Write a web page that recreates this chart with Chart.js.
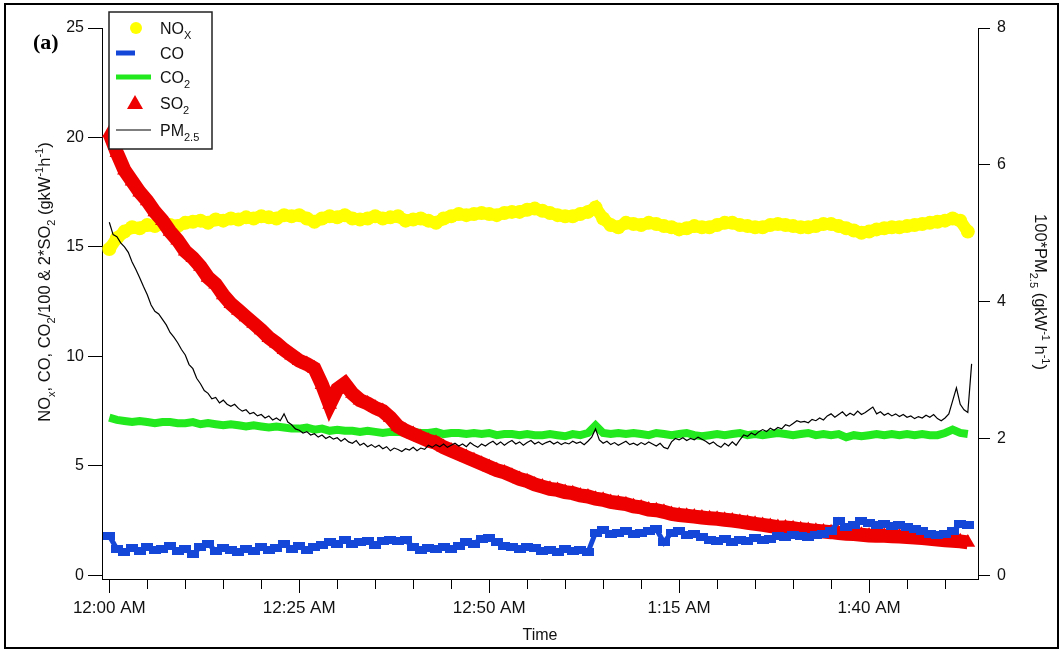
<!DOCTYPE html>
<html>
<head>
<meta charset="utf-8">
<title>Emission factors over time</title>
<script src="https://cdn.jsdelivr.net/npm/chart.js@4.4.1/dist/chart.umd.min.js"></script>
<style>
  html, body { margin: 0; padding: 0; background: #ffffff; }
  #wrap { width: 1061px; height: 650px; }
</style>
</head>
<body>
<div id="wrap"><canvas id="c" width="1061" height="650"></canvas></div>
<script>
// ---- time axis (minutes after 12:00 AM) ----
const timeTickMinutes = [0, 25, 50, 75, 100];
const timeTickLabels = ['12:00 AM', '12:25 AM', '12:50 AM', '1:15 AM', '1:40 AM'];
const minorTickMinutes = [5, 10, 15, 20, 30, 35, 40, 45, 55, 60, 65, 70, 80, 85, 90, 95, 105, 110];
const leftTickValues = [0, 5, 10, 15, 20, 25];
const rightTickValues = [0, 2, 4, 6, 8];

// gas series, one sample per minute
const sampleStepMin = 1;
const noxValues = [
  14.9, 15.4, 15.7, 15.9, 15.85, 16.0, 15.95, 16.05, 16.0, 15.95,
  16.1, 16.15, 16.2, 16.1, 16.25, 16.2, 16.3, 16.25, 16.35, 16.3,
  16.4, 16.35, 16.3, 16.45, 16.4, 16.45, 16.3, 16.15, 16.3, 16.4,
  16.35, 16.45, 16.3, 16.25, 16.3, 16.4, 16.3, 16.35, 16.4, 16.2,
  16.25, 16.3, 16.2, 16.1, 16.3, 16.4, 16.5, 16.45, 16.5, 16.55,
  16.5, 16.45, 16.55, 16.6, 16.6, 16.7, 16.75, 16.65, 16.55, 16.45,
  16.4, 16.4, 16.5, 16.6, 16.8, 16.3, 16.0, 15.9, 16.1, 16.05,
  16.0, 16.1, 16.05, 15.95, 15.9, 15.8, 15.85, 15.95, 15.9, 15.9,
  16.0, 16.1, 16.1, 16.0, 15.95, 15.9, 15.9, 16.0, 16.05, 16.0,
  15.95, 15.9, 15.9, 15.95, 16.05, 16.05, 15.95, 15.85, 15.75, 15.65,
  15.7, 15.8, 15.85, 15.9, 15.9, 15.95, 16.0, 16.05, 16.1, 16.15,
  16.2, 16.3, 16.2, 15.7
];
const coValues = [
  1.8, 1.2, 1.05, 1.25, 1.1, 1.3, 1.15, 1.2, 1.35, 1.1,
  1.2, 0.95, 1.3, 1.45, 1.1, 1.25, 1.15, 1.05, 1.2, 1.1,
  1.3, 1.15, 1.25, 1.45, 1.2, 1.35, 1.15, 1.3, 1.4, 1.5,
  1.45, 1.6, 1.45, 1.5, 1.55, 1.4, 1.55, 1.6, 1.55, 1.6,
  1.3, 1.15, 1.25, 1.2, 1.3, 1.2, 1.35, 1.5, 1.45, 1.65,
  1.7, 1.5, 1.35, 1.3, 1.2, 1.3, 1.25, 1.1, 1.15, 1.05,
  1.2, 1.1, 1.15, 1.05, 1.95, 2.05, 1.9, 1.95, 2.0, 1.9,
  1.95, 2.0, 2.1, 1.5, 1.95, 2.0, 1.85, 1.9, 1.75, 1.6,
  1.55, 1.65, 1.5, 1.6, 1.55, 1.7, 1.6, 1.65, 1.8, 1.75,
  1.85, 1.8, 1.75, 1.85, 1.9, 2.0, 2.5, 2.2, 2.3, 2.5,
  2.4, 2.3, 2.35, 2.25, 2.3, 2.2, 2.1, 2.0, 1.9, 1.85,
  1.9, 2.0, 2.35, 2.3
];
const co2Values = [
  7.2, 7.1, 7.05, 7.0, 7.05, 7.0, 6.95, 7.0, 7.0, 6.95,
  6.95, 7.0, 6.9, 6.95, 6.9, 6.85, 6.9, 6.85, 6.8, 6.85,
  6.8, 6.75, 6.8, 6.75, 6.7, 6.7, 6.75, 6.65, 6.7, 6.6,
  6.65, 6.6, 6.6, 6.55, 6.6, 6.55, 6.5, 6.55, 6.55, 6.5,
  6.55, 6.5, 6.5, 6.55, 6.45, 6.5, 6.5, 6.45, 6.5, 6.45,
  6.5, 6.4, 6.45, 6.45, 6.4, 6.45, 6.4, 6.4, 6.45, 6.4,
  6.35, 6.45, 6.4, 6.5, 6.85, 6.5, 6.45, 6.5, 6.45, 6.5,
  6.45, 6.4, 6.5, 6.45, 6.4, 6.45, 6.5, 6.4, 6.35, 6.4,
  6.45, 6.4, 6.45, 6.5, 6.4, 6.45, 6.4, 6.45, 6.5, 6.45,
  6.4, 6.45, 6.5, 6.4, 6.45, 6.4, 6.45, 6.3, 6.4, 6.35,
  6.4, 6.45, 6.4, 6.45, 6.4, 6.45, 6.4, 6.45, 6.4, 6.4,
  6.5, 6.65, 6.5, 6.45
];
const so2Values = [
  20.2, 19.3, 18.5, 18.0, 17.5, 17.1, 16.6, 16.2, 15.7, 15.3,
  14.8, 14.5, 14.1, 13.6, 13.3, 12.8, 12.4, 12.1, 11.8, 11.5,
  11.2, 10.85, 10.6, 10.3, 10.05, 9.8, 9.65, 9.45, 8.7, 7.8,
  8.5, 8.75, 8.3, 8.0, 7.85, 7.65, 7.5, 7.2, 6.8, 6.6,
  6.45, 6.3, 6.15, 6.05, 5.85, 5.7, 5.55, 5.4, 5.25, 5.1,
  4.95, 4.8, 4.7, 4.55, 4.4, 4.3, 4.15, 4.05, 3.95, 3.9,
  3.8, 3.75, 3.65, 3.6, 3.5, 3.45, 3.35, 3.3, 3.25, 3.15,
  3.1, 3.0, 2.97, 2.9, 2.8, 2.75, 2.72, 2.68, 2.64, 2.6,
  2.58, 2.54, 2.5, 2.45, 2.4, 2.35, 2.3, 2.25, 2.2, 2.18,
  2.15, 2.1, 2.07, 2.03, 2.0, 1.97, 1.93, 1.9, 1.88, 1.85,
  1.82, 1.8, 1.8, 1.78, 1.77, 1.75, 1.73, 1.7, 1.67, 1.63,
  1.6, 1.58, 1.55, 1.5
];

// 100*PM2.5, one sample per half minute (right axis)
const pmStepMin = 0.5;
const pmValues = [
  5.16, 4.98, 4.95, 4.86, 4.80, 4.72, 4.58, 4.47, 4.35, 4.22,
  4.10, 3.95, 3.86, 3.82, 3.74, 3.66, 3.55, 3.48, 3.40, 3.30,
  3.22, 3.08, 3.02, 2.88, 2.80, 2.70, 2.66, 2.58, 2.60, 2.52,
  2.56, 2.50, 2.47, 2.50, 2.44, 2.40, 2.42, 2.36, 2.38, 2.33,
  2.35, 2.30, 2.33, 2.27, 2.30, 2.26, 2.36, 2.24, 2.20, 2.14,
  2.12, 2.08, 2.10, 2.05, 2.07, 2.02, 2.05, 2.00, 2.03, 1.99,
  2.01, 1.96, 2.00, 1.95, 1.93, 1.97, 1.90, 1.93, 1.88, 1.91,
  1.87, 1.90, 1.85, 1.88, 1.82, 1.86, 1.84, 1.81, 1.85, 1.83,
  1.87, 1.82, 1.86, 1.84, 1.90, 1.87, 1.91, 1.88, 1.92, 1.87,
  1.90, 1.93, 1.89, 1.92, 1.88, 1.94, 1.90, 1.87, 1.92, 1.89,
  1.93, 1.96, 1.91, 1.95, 1.90, 1.94, 1.97, 1.92, 1.95, 1.90,
  1.94, 1.97, 1.92, 1.95, 1.91, 1.94, 1.96, 1.92, 1.95, 1.91,
  1.94, 1.92, 1.96, 1.93, 1.95, 1.91, 1.96, 2.02, 2.14, 1.98,
  1.93, 1.96, 1.91, 1.94, 1.90, 1.93, 1.96, 1.91, 1.93, 1.90,
  1.94, 1.91, 1.95, 1.92, 1.89, 1.93, 1.87, 1.85, 1.95, 2.00,
  1.98, 2.01, 1.97, 2.00, 1.98, 2.02, 1.99, 1.96, 1.92, 1.95,
  1.90, 1.87, 1.93, 1.89, 1.95, 1.90, 1.98, 2.05, 2.03, 2.08,
  2.05, 2.10, 2.13, 2.10, 2.15, 2.12, 2.16, 2.14, 2.20, 2.18,
  2.22, 2.26, 2.24, 2.25, 2.23, 2.28, 2.26, 2.30, 2.27, 2.33,
  2.36, 2.31, 2.35, 2.39, 2.33, 2.37, 2.34, 2.40, 2.35, 2.38,
  2.42, 2.46, 2.36, 2.39, 2.34, 2.37, 2.33, 2.36, 2.32, 2.35,
  2.31, 2.33, 2.29, 2.32, 2.30, 2.34, 2.31, 2.35, 2.29, 2.26,
  2.30, 2.36, 2.55, 2.74, 2.50, 2.42, 2.38, 3.09
];

// ---- colours ----
const noxColor = '#ffff00';
const coColor = '#1446d8';
const co2Color = '#22e81e';
const so2Color = '#ee0000';
const pmColor = '#000000';
const textColor = '#111111';
const sansFamily = "'Liberation Sans', Arial, sans-serif";

const toPoints = (values, step) => values.map((v, i) => ({ x: i * step, y: v }));

// short horizontal dash used as the CO marker
const coMark = document.createElement('canvas');
coMark.width = 12; coMark.height = 8;
{
  const g = coMark.getContext('2d');
  g.fillStyle = coColor;
  g.fillRect(0, 0, 12, 8);
}

// text with subscripts / superscripts
function segFont(seg, size, family) {
  const s = (seg.sub || seg.sup) ? Math.round(size * 0.68) : size;
  return s + 'px ' + family;
}
function richWidth(ctx, segs, size, family) {
  let w = 0;
  for (const seg of segs) { ctx.font = segFont(seg, size, family); w += ctx.measureText(seg.t).width; }
  return w;
}
function drawRich(ctx, segs, x, y, size, family, align) {
  const total = richWidth(ctx, segs, size, family);
  let cx = align === 'center' ? x - total / 2 : x;
  ctx.textAlign = 'left';
  ctx.textBaseline = 'alphabetic';
  for (const seg of segs) {
    ctx.font = segFont(seg, size, family);
    const dy = seg.sub ? size * 0.3 : (seg.sup ? -size * 0.42 : 0);
    ctx.fillText(seg.t, cx, y + dy);
    cx += ctx.measureText(seg.t).width;
  }
}

const leftTitle = [
  { t: 'NO' }, { t: 'x', sub: true }, { t: ', CO, CO' }, { t: '2', sub: true },
  { t: '/100 & 2*SO' }, { t: '2', sub: true }, { t: ' (gkW' }, { t: '-1', sup: true },
  { t: 'h' }, { t: '-1', sup: true }, { t: ')' }
];
const rightTitle = [
  { t: '100*PM' }, { t: '2.5', sub: true }, { t: ' (gkW' }, { t: '-1', sup: true },
  { t: ' h' }, { t: '-1', sup: true }, { t: ')' }
];
const legendLabels = [
  [{ t: 'NO' }, { t: 'X', sub: true }],
  [{ t: 'CO' }],
  [{ t: 'CO' }, { t: '2', sub: true }],
  [{ t: 'SO' }, { t: '2', sub: true }],
  [{ t: 'PM' }, { t: '2.5', sub: true }]
];

// frame, minor ticks, legend, panel tag and axis titles
const decorPlugin = {
  id: 'decor',
  afterDraw(chart) {
    const ctx = chart.ctx;
    const area = chart.chartArea;
    const xs = chart.scales.x;
    ctx.save();

    // outer frame
    ctx.strokeStyle = '#000';
    ctx.lineWidth = 2;
    ctx.strokeRect(5, 4, 1053, 644);

    // minor time ticks
    ctx.lineWidth = 1;
    ctx.beginPath();
    for (const m of minorTickMinutes) {
      const px = Math.round(xs.getPixelForValue(m)) + 0.5;
      ctx.moveTo(px, area.bottom);
      ctx.lineTo(px, area.bottom + 10);
    }
    ctx.stroke();

    // legend box
    ctx.fillStyle = '#ffffff';
    ctx.fillRect(109, 12, 103, 137);
    ctx.strokeStyle = '#222';
    ctx.lineWidth = 1.5;
    ctx.strokeRect(109, 12, 103, 137);

    const rowY = [28, 53, 77, 103, 130];
    ctx.fillStyle = noxColor;
    ctx.beginPath(); ctx.arc(136, rowY[0], 6, 0, Math.PI * 2); ctx.fill();
    ctx.fillStyle = coColor;
    ctx.fillRect(116, rowY[1] - 2.5, 19, 5);
    ctx.fillStyle = co2Color;
    ctx.fillRect(116, rowY[2] - 2.5, 35, 5);
    ctx.fillStyle = so2Color;
    ctx.beginPath();
    ctx.moveTo(135, rowY[3] - 8); ctx.lineTo(143, rowY[3] + 6); ctx.lineTo(127, rowY[3] + 6);
    ctx.closePath(); ctx.fill();
    ctx.strokeStyle = pmColor;
    ctx.lineWidth = 1.2;
    ctx.beginPath(); ctx.moveTo(116, rowY[4]); ctx.lineTo(151, rowY[4]); ctx.stroke();

    ctx.fillStyle = textColor;
    legendLabels.forEach((segs, i) => drawRich(ctx, segs, 160, rowY[i] + 6, 16, sansFamily, 'left'));

    // panel tag
    ctx.fillStyle = '#000';
    ctx.font = "bold 22px 'Liberation Serif', 'Times New Roman', serif";
    ctx.textAlign = 'left';
    ctx.textBaseline = 'alphabetic';
    ctx.fillText('(a)', 33, 49);

    // left axis title (reads upward)
    ctx.fillStyle = textColor;
    ctx.save();
    ctx.translate(44, 282);
    ctx.rotate(-Math.PI / 2);
    drawRich(ctx, leftTitle, 0, 6, 16.5, sansFamily, 'center');
    ctx.restore();

    // right axis title (reads downward)
    ctx.save();
    ctx.translate(1041, 292);
    ctx.rotate(Math.PI / 2);
    drawRich(ctx, rightTitle, 0, 6, 16.5, sansFamily, 'center');
    ctx.restore();

    // time axis title
    ctx.font = '16px ' + sansFamily;
    ctx.textAlign = 'center';
    ctx.textBaseline = 'middle';
    ctx.fillText('Time', 540, 636);

    ctx.restore();
  }
};

Chart.defaults.font.family = sansFamily;
Chart.defaults.color = textColor;

new Chart(document.getElementById('c'), {
  type: 'scatter',
  data: {
    datasets: [
      {
        label: 'PM2.5', data: toPoints(pmValues, pmStepMin), yAxisID: 'y1', order: 0,
        showLine: true, borderColor: pmColor, borderWidth: 1.2, pointRadius: 0, tension: 0
      },
      {
        label: 'CO', data: toPoints(coValues, sampleStepMin), yAxisID: 'y', order: 1,
        showLine: true, borderColor: coColor, borderWidth: 5,
        pointStyle: coMark, pointRadius: 5, backgroundColor: coColor
      },
      {
        label: 'SO2', data: toPoints(so2Values, sampleStepMin), yAxisID: 'y', order: 2,
        showLine: true, borderColor: so2Color, borderWidth: 14,
        pointStyle: 'triangle', pointRadius: 8.5, backgroundColor: so2Color, pointBorderWidth: 0
      },
      {
        label: 'CO2', data: toPoints(co2Values, sampleStepMin), yAxisID: 'y', order: 3,
        showLine: true, borderColor: co2Color, borderWidth: 8, pointRadius: 0, tension: 0
      },
      {
        label: 'NOx', data: toPoints(noxValues, sampleStepMin), yAxisID: 'y', order: 4,
        showLine: true, borderColor: noxColor, borderWidth: 12,
        pointStyle: 'circle', pointRadius: 7, backgroundColor: noxColor, pointBorderWidth: 0
      }
    ]
  },
  options: {
    responsive: false,
    devicePixelRatio: 1,
    animation: false,
    events: [],
    layout: { padding: { top: 28, left: 0, right: 0, bottom: 0 } },
    plugins: { legend: { display: false }, tooltip: { enabled: false } },
    scales: {
      x: {
        type: 'linear', position: 'bottom', min: -0.96, max: 114.34,
        afterBuildTicks: (s) => { s.ticks = timeTickMinutes.map(v => ({ value: v })); },
        afterFit: (s) => { s.height = 71; },
        ticks: {
          autoSkip: false, maxRotation: 0, padding: 5, color: textColor,
          font: { size: 17 },
          callback: (v) => { const i = timeTickMinutes.indexOf(v); return i >= 0 ? timeTickLabels[i] : ''; }
        },
        grid: { drawOnChartArea: false, drawTicks: true, tickLength: 14, color: '#000' },
        border: { display: true, color: '#000', width: 1 }
      },
      y: {
        type: 'linear', position: 'left', min: -0.17, max: 25,
        afterBuildTicks: (s) => { s.ticks = leftTickValues.map(v => ({ value: v })); },
        afterFit: (s) => { s.width = 102; },
        ticks: { padding: 4, color: textColor, font: { size: 16 } },
        grid: { drawOnChartArea: false, drawTicks: true, tickLength: 14, color: '#000' },
        border: { display: true, color: '#000', width: 1 }
      },
      y1: {
        type: 'linear', position: 'right', min: -0.054, max: 8,
        afterBuildTicks: (s) => { s.ticks = rightTickValues.map(v => ({ value: v })); },
        afterFit: (s) => { s.width = 83; },
        ticks: { padding: 7, color: textColor, font: { size: 16 } },
        grid: { drawOnChartArea: false, drawTicks: true, tickLength: 12, color: '#000' },
        border: { display: true, color: '#000', width: 1 }
      }
    }
  },
  plugins: [decorPlugin]
});
</script>
</body>
</html>
